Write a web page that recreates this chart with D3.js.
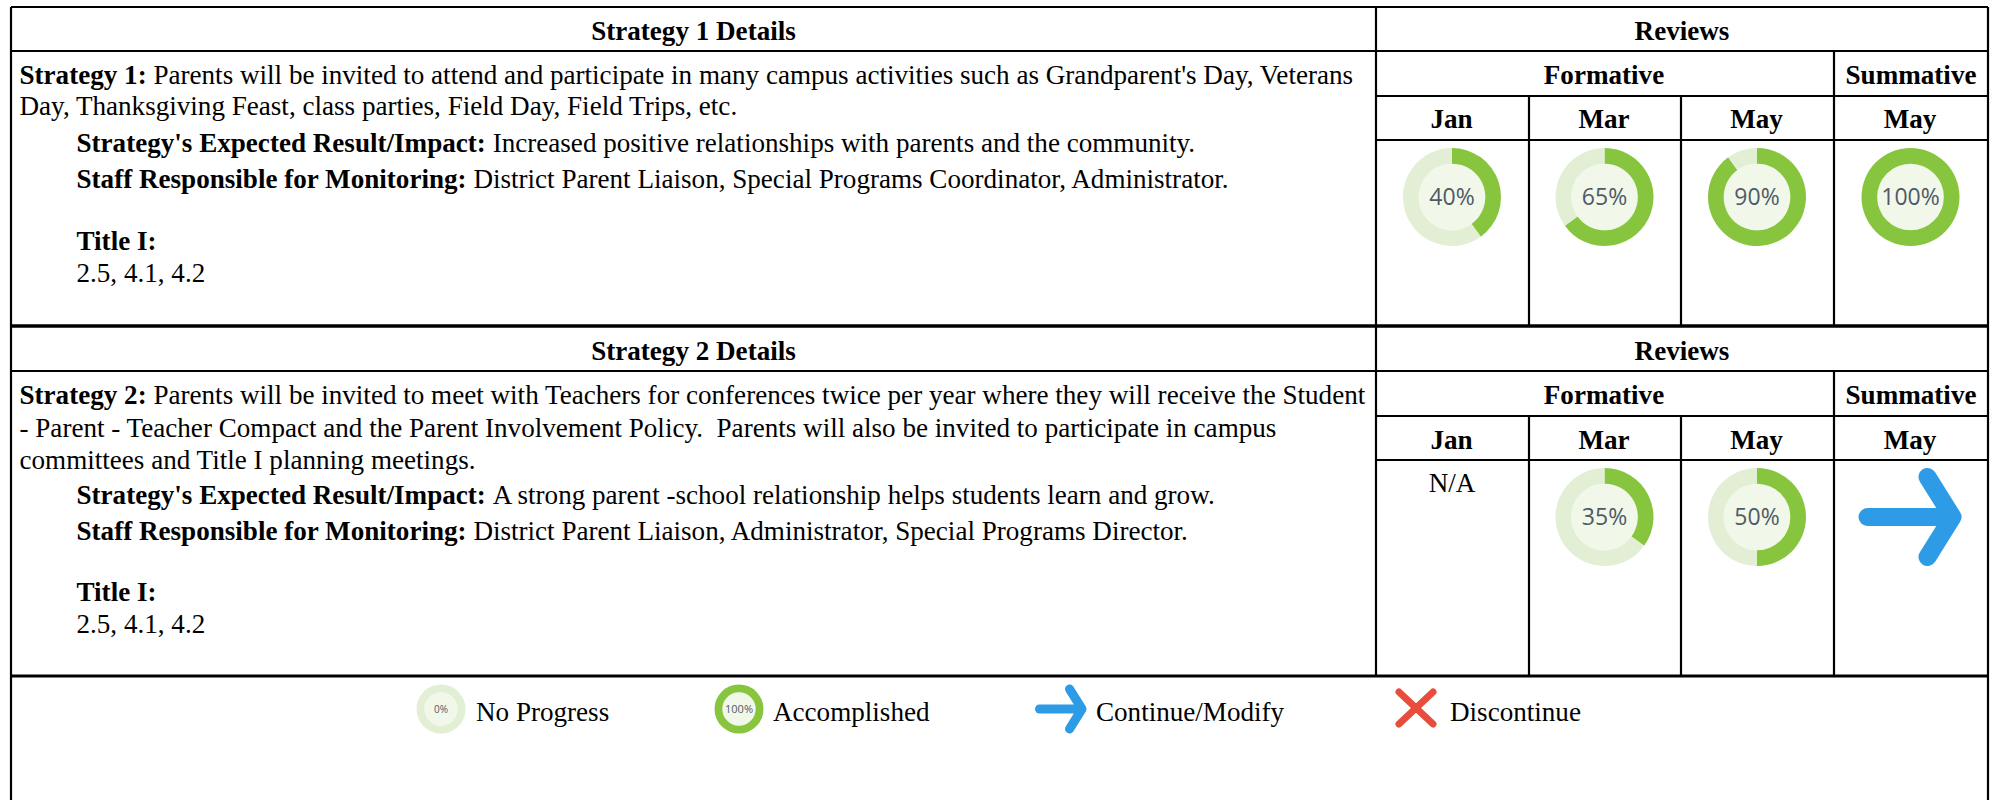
<!DOCTYPE html>
<html><head><meta charset="utf-8">
<script src="https://cdn.jsdelivr.net/npm/d3@7"></script>
<style>html,body{margin:0;padding:0;background:#fff}svg{display:block}text{font-family:"Liberation Serif",serif;fill:#000;font-size:27.1px}</style>
</head><body><svg id="c" width="1997" height="800"></svg>
<script>
const months = ["Jan","Mar","May","May"];
const strategy1Values = [40,65,90,100];
const strategy2Values = [null,35,50,"arrow"];
const strategyTitles = ["Strategy 1 Details","Strategy 2 Details"];
const strategy1Lines = [
 [["Strategy 1: ",1],["Parents will be invited to attend and participate in many campus activities such as Grandparent's Day, Veterans",0]],
 [["Day, Thanksgiving Feast, class parties, Field Day, Field Trips, etc.",0]]];
const strategy2Lines = [
 [["Strategy 2: ",1],["Parents will be invited to meet with Teachers for conferences twice per year where they will receive the Student",0]],
 [["- Parent - Teacher Compact and the Parent Involvement Policy.  Parents will also be invited to participate in campus",0]],
 [["committees and Title I planning meetings.",0]]];
const strategy1Notes = [
 [["Strategy's Expected Result/Impact: ",1],["Increased positive relationships with parents and the community.",0]],
 [["Staff Responsible for Monitoring: ",1],["District Parent Liaison, Special Programs Coordinator, Administrator.",0]]];
const strategy2Notes = [
 [["Strategy's Expected Result/Impact: ",1],["A strong parent -school relationship helps students learn and grow.",0]],
 [["Staff Responsible for Monitoring: ",1],["District Parent Liaison, Administrator, Special Programs Director.",0]]];
const legendLabels = ["No Progress","Accomplished","Continue/Modify","Discontinue"];
const legendValues = [0,100,"arrow","cross"];

const svg = d3.select("#c");
const GREEN="#88c53e", LIGHT="#e2efd5", INNER="#f1f8ea", BLUE="#2d9be5", RED="#e74c3c";
const L=11,D=1376,C=[1376,1529,1681,1834,1988];

function line(x1,y1,x2,y2,w=2.2){svg.append("line").attr("x1",x1).attr("y1",y1).attr("x2",x2).attr("y2",y2).attr("stroke","#000").attr("stroke-width",w);}
function rich(x,y,parts){
  const t=svg.append("text").attr("x",x).attr("y",y).attr("xml:space","preserve").style("white-space","pre");
  parts.forEach(([s,b])=>t.append("tspan").attr("font-weight",b?"700":"400").text(s));
}
function center(x,y,s,b=true){svg.append("text").attr("x",x).attr("y",y).attr("text-anchor","middle").attr("font-weight",b?"700":"400").text(s);}

const pie=d3.pie().sort(null).value(d=>d);
function ring(cx,cy,v,R,fs){
  const g=svg.append("g").attr("transform",`translate(${cx},${cy})`);
  const arc=d3.arc().innerRadius(R*0.68).outerRadius(R);
  g.append("circle").attr("r",R*0.68).attr("fill",INNER);
  g.selectAll("path").data(pie([v,100-v])).join("path").attr("d",arc).attr("fill",(d,i)=>i?LIGHT:GREEN);
  g.append("text").attr("y",fs*0.36).attr("text-anchor","middle")
   .style("font-family","'Open Sans',sans-serif").style("font-size",fs+"px").style("fill","#4f5a66").text(v+"%");
}
function arrow(cx,cy,s){
  const g=svg.append("g").attr("transform",`translate(${cx},${cy}) scale(${s})`)
    .attr("fill","none").attr("stroke",BLUE).attr("stroke-width",18).attr("stroke-linecap","round").attr("stroke-linejoin","round");
  g.append("path").attr("d",d3.line()([[-43,0],[36,0]]));
  g.append("path").attr("d",d3.line()([[17,-40],[42,0],[17,40]]));
}
function cross(cx,cy){
  const g=svg.append("g").attr("transform",`translate(${cx},${cy})`).attr("stroke",RED).attr("stroke-width",7).attr("stroke-linecap","round");
  g.append("path").attr("d",d3.line()([[-17,-16],[17,16]]));
  g.append("path").attr("d",d3.line()([[17,-16],[-17,16]]));
}

function block(o){
  const {top,title,lines,notes,vals,ys}=o;
  center((L+D)/2,ys.head,title);
  center((D+C[4])/2,ys.head,"Reviews");
  center((C[0]+C[3])/2-1,ys.sub,"Formative");
  center((C[3]+C[4])/2,ys.sub,"Summative");
  months.forEach((m,i)=>center((C[i]+C[i+1])/2-1,ys.mon,m));
  lines.forEach((p,i)=>rich(19.5,ys.lines[i],p));
  notes.forEach((p,i)=>rich(76.5,ys.notes[i],p));
  rich(76.5,ys.title,[["Title I:",1]]);
  rich(76.5,ys.codes,[["2.5, 4.1, 4.2",0]]);
  vals.forEach((v,i)=>{
    const cx=(C[i]+C[i+1])/2-0.5;
    if(v===null) center(cx,ys.na,"N/A",false);
    else if(v==="arrow") arrow(cx,ys.icon,1);
    else ring(cx,ys.icon,v,49,23);
  });
  [top+44,top+89,top+133].forEach((y,i)=>{
    if(i===0) line(L,y,C[4],y);
    else line(D,y,C[4],y);
  });
}

block({top:7,title:strategyTitles[0],lines:strategy1Lines,notes:strategy1Notes,vals:strategy1Values,
 ys:{head:39.5,sub:83.5,mon:128,lines:[83.5,115],notes:[152,188],title:250,codes:282,icon:197,na:0}});
block({top:327,title:strategyTitles[1],lines:strategy2Lines,notes:strategy2Notes,vals:strategy2Values,
 ys:{head:360,sub:404,mon:449,lines:[404,437,469],notes:[503.5,540],title:601,codes:633,icon:517,na:492}});

// Frame & grid
line(L,7,C[4],7); line(L,326,C[4],326,3.5); line(L,676,C[4],676,3);
line(L,7,L,800); line(C[4],7,C[4],800); line(D,7,D,676);
line(C[1],96,C[1],326);line(C[2],96,C[2],326);line(C[3],51,C[3],326);
line(C[1],416,C[1],676);line(C[2],416,C[2],676);line(C[3],372,C[3],676);

// Legend
const legX=[441,739,1061,1416], legT=[476,773,1096,1450];
legendLabels.forEach((l,i)=>{
  const v=legendValues[i];
  if(v==="arrow") arrow(legX[i],709,0.5);
  else if(v==="cross") cross(legX[i],708);
  else ring(legX[i],709,v,24.5,v===100?11:10);
  rich(legT[i],721,[[l,0]]);
});
</script></body></html>
